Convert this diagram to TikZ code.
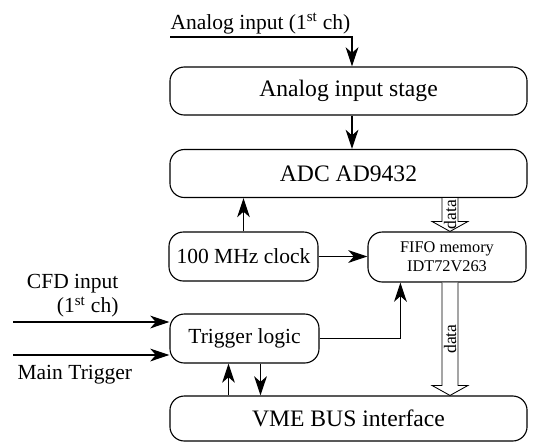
\documentclass[tikz,border=0pt]{standalone}
\usepackage{fontspec}
\setmainfont{Liberation Serif}
\usetikzlibrary{arrows.meta,calc}

\newcommand{\bigtxt}{\fontsize{16.8}{20}\selectfont}
\newcommand{\midtxt}{\fontsize{15.3}{17.5}\selectfont}
\newcommand{\fifotxt}{\fontsize{11.6}{13.5}\selectfont}
\newcommand{\datatxt}{\fontsize{12.5}{14}\selectfont}

% hollow wide arrow between two points, pointing down
\newcommand{\fatarrow}[2]{%
  \draw[fatline] ($(#1)+(-8,0)$) -- ($(#2)+(-8,-10)$) -- ($(#2)+(-18,-10)$) -- (#2)
    -- ($(#2)+(18,-10)$) -- ($(#2)+(8,-10)$) -- ($(#1)+(8,0)$);
  \node[rotate=90,font=\datatxt,inner sep=0pt] at ($(#1)!0.5!(#2)$) {data};}

\begin{document}
\begin{tikzpicture}[x=0.025cm,y=-0.025cm,line width=0.8pt,
    >={Stealth[length=0.48cm,width=0.32cm,inset=0.14cm]},
    block/.style={draw,rounded corners=0.36cm,inner sep=0pt,align=center},
    wide/.style={block,minimum width=8.925cm,minimum height=1.2cm,font=\bigtxt},
    half/.style={block,minimum width=3.725cm,minimum height=1.225cm,font=\midtxt},
    fatline/.style={fill=white,line width=0.6pt}]
  \useasboundingbox (0,0) rectangle (533,443);

  \node[wide] (stage) at (348.5,91) {Analog input stage};
  \node[wide] (adc) at (348.5,173.5) {ADC AD9432};
  \node[half] (clk) at (243.5,256.5) {100 MHz clock};
  \node[block,minimum width=3.95cm,minimum height=1.25cm,font=\fifotxt] (fifo) at (447,257) {FIFO memory\\IDT72V263};
  \node[half] (trig) at (244.5,338.5) {Trigger logic};
  \node[wide,minimum height=1.125cm] (vme) at (348.5,418.5) {VME BUS interface};

  % analog input
  \coordinate (ain) at (170,37);
  \coordinate (ainc) at (352,37);
  \node[anchor=base west,inner sep=0pt,font=\midtxt] (aintxt) at (170,29) {Analog input (1\textsuperscript{st} ch)};
  \draw[->] (ain) -- (ainc) -- (ainc |- stage.north);
  \draw[->] (ainc |- stage.south) -- (ainc |- adc.north);

  % clock
  \draw[->] (clk.north) -- (clk.north |- adc.south);
  \draw[->] (clk.east) -- (clk.east -| fifo.west);

  % trigger inputs
  \coordinate (cfd) at (13,322);
  \coordinate (mtr) at (13,355);
  \draw[->] (cfd) -- (cfd -| trig.west);
  \draw[->] (mtr) -- (mtr -| trig.west);
  \node[anchor=south east,align=right,inner sep=0pt,font=\midtxt] (cfdtxt) at (119,318) {CFD input\\(1\textsuperscript{st} ch)};
  \node[anchor=base west,inner sep=0pt,font=\midtxt] (mtrtxt) at (17,379) {Main Trigger};

  % trigger to fifo and vme
  \draw[->] (trig.east) -| ($(fifo.south west)+(33,0)$);
  \coordinate (tu) at ($(trig.south)+(-16,0)$);
  \coordinate (td) at ($(trig.south)+(16,0)$);
  \draw[->] (tu |- vme.north) -- (tu);
  \draw[->] (td) -- (td |- vme.north);

  % data paths
  \coordinate (dtop) at ($(fifo.north)+(3,0)$);
  \coordinate (dbot) at ($(fifo.south)+(3,0)$);
  \fatarrow{dtop |- adc.south}{dtop}
  \fatarrow{dbot}{dbot |- vme.north}
\end{tikzpicture}
\end{document}
